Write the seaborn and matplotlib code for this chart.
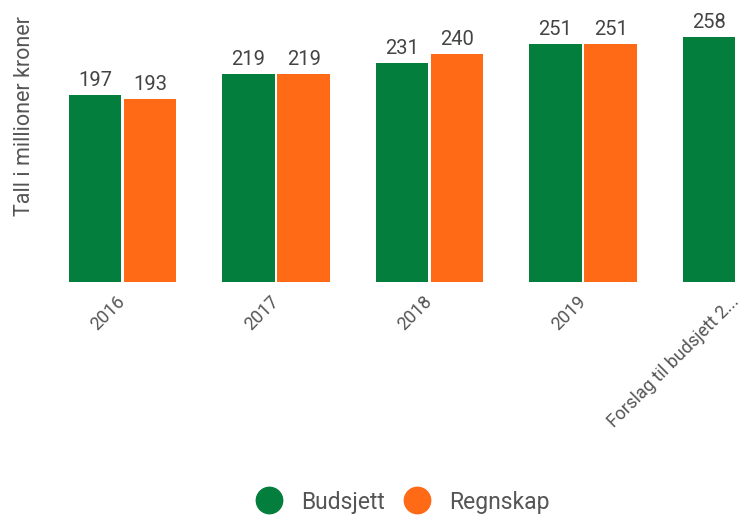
import numpy as np
import pandas as pd
import matplotlib
matplotlib.use('Agg')
import matplotlib.pyplot as plt
from matplotlib.lines import Line2D
import seaborn as sns

years = ['2016', '2017', '2018', '2019', 'Forslag til budsjett 2...']
budsjett = [197, 219, 231, 251, 258]
regnskap = [193, 219, 240, 251, np.nan]
series = ['Budsjett', 'Regnskap']

green = '#047e3d'
orange = '#ff6a17'
grey = '#555555'

df = pd.DataFrame({
    'år': years * 2,
    'beløp': budsjett + regnskap,
    'serie': [series[0]] * len(years) + [series[1]] * len(years),
})

sns.set_theme(style='white')
plt.rcParams['font.family'] = ['Roboto', 'DejaVu Sans']

fig = plt.figure(figsize=(7.42, 5.16), dpi=100)
ax = fig.add_axes([45.75 / 742, 1 - 282 / 516, 696.25 / 742, 265.9 / 516])

sns.barplot(data=df, x='år', y='beløp', hue='serie', hue_order=series,
            palette=[green, orange], width=0.72, gap=0.05, saturation=1,
            errorbar=None, legend=False, linewidth=0, ax=ax)

for c in ax.containers:
    labels = [f'{v:.0f}' if np.isfinite(v) else '' for v in c.datavalues]
    ax.bar_label(c, labels=labels, padding=3.5, fontsize=14.5, color='#444444')

ax.set_xlim(-0.5, -0.5 + 696.25 / 153.5)
ax.set_ylim(0, 280)
ax.set_yticks([])
ax.set_xlabel('')
ax.set_ylabel('')
sns.despine(ax=ax, left=True, bottom=True)
ax.tick_params(axis='x', length=0, pad=12, labelsize=13, labelcolor=grey)
ax.set_xticks(range(len(years)))
ax.set_xticklabels(years, rotation=45, ha='right', va='center', rotation_mode='anchor')

fig.text(25 / 742, 1 - 116 / 516, 'Tall i millioner kroner', rotation=90,
         ha='center', va='center', fontsize=15.5, color=grey)

handles = [Line2D([], [], marker='o', linestyle='', markersize=19,
                  markerfacecolor=col, markeredgecolor=col) for col in (green, orange)]
fig.legend(handles, series, loc='center', bbox_to_anchor=(404 / 742, 1 - 502 / 516),
           ncol=2, frameon=False, fontsize=16.5, labelcolor=grey,
           handlelength=1.0, handletextpad=0.9, columnspacing=0.9)

fig.savefig('out.png', dpi=100)
